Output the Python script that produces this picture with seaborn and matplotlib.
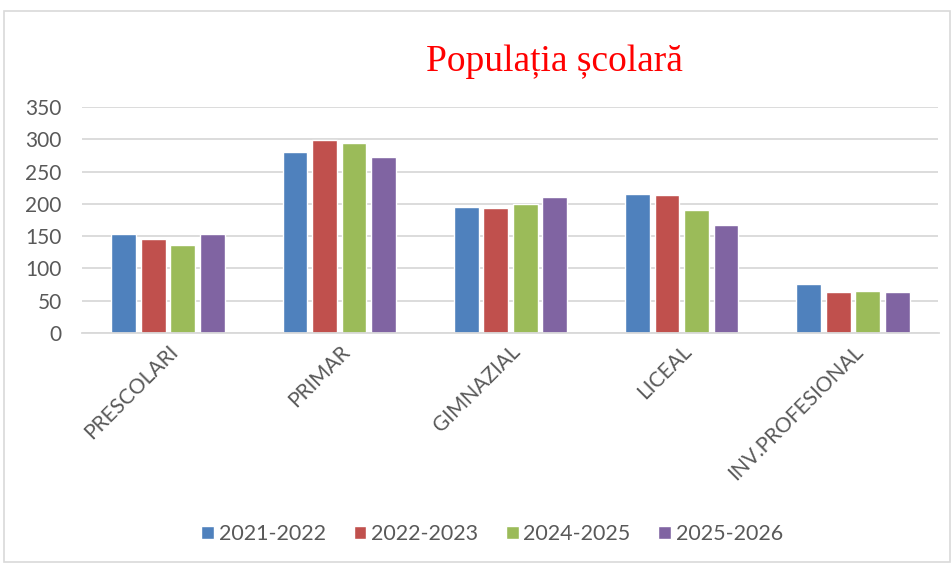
import pandas as pd
import seaborn as sns
import matplotlib.pyplot as plt
from matplotlib.patches import Rectangle

# values
categories = ["PRESCOLARI", "PRIMAR", "GIMNAZIAL", "LICEAL", "INV.PROFESIONAL"]
years = ["2021-2022", "2022-2023", "2024-2025", "2025-2026"]
v_2021 = [154, 281, 195, 216, 76]
v_2022 = [146, 299, 193, 214, 64]
v_2024 = [137, 294, 200, 190, 65]
v_2025 = [153, 273, 211, 167, 64]
colors = ["#4F81BD", "#C0504D", "#9BBB59", "#8064A2"]

df = pd.DataFrame({"categorie": categories, years[0]: v_2021, years[1]: v_2022,
                   years[2]: v_2024, years[3]: v_2025})
long = df.melt(id_vars="categorie", var_name="an", value_name="elevi")

sns.set_style("white")
plt.rcParams["font.family"] = ["Lato", "DejaVu Sans"]

fig = plt.figure(figsize=(9.53, 5.64), dpi=100)
ax = fig.add_axes([82.5 / 953, 1 - 333 / 564, (938.5 - 82.5) / 953, 226 / 564])

sns.barplot(data=long, x="categorie", y="elevi", hue="an", palette=colors,
            width=0.69, gap=0.16, saturation=1, ax=ax, legend=True)

ax.set_ylim(0, 350)
ax.set_yticks(range(0, 351, 50))
ax.yaxis.grid(True, color="#d9d9d9", linewidth=1.3)
ax.set_axisbelow(True)
for s in ["top", "right", "left"]:
    ax.spines[s].set_visible(False)
ax.spines["bottom"].set_color("#d9d9d9")
ax.spines["bottom"].set_linewidth(1.3)
ax.set_xlabel("")
ax.set_ylabel("")
ax.tick_params(axis="both", length=0, labelsize=15, colors="#595959")
ax.tick_params(axis="y", pad=15)
ax.tick_params(axis="x", pad=6)
plt.setp(ax.get_xticklabels(), rotation=45, ha="right", rotation_mode="anchor")

leg = ax.legend(loc="center", bbox_to_anchor=(492 / 953, 1 - 534 / 564),
                bbox_transform=fig.transFigure, ncol=4, frameon=False,
                fontsize=15.5, handlelength=0.6, handleheight=0.6,
                columnspacing=1.3, handletextpad=0.2)
for t in leg.get_texts():
    t.set_color("#595959")

fig.text(554 / 953, 1 - 62 / 564, "Populația școlară", ha="center", va="center",
         fontsize=27, color="red", family=["Liberation Serif", "DejaVu Serif"])

fig.patches.append(Rectangle((4 / 953, 2 / 564), 946 / 953, 551 / 564,
                             transform=fig.transFigure, fill=False,
                             edgecolor="#d9d9d9", linewidth=1.2))

fig.savefig("out.png", dpi=100)
